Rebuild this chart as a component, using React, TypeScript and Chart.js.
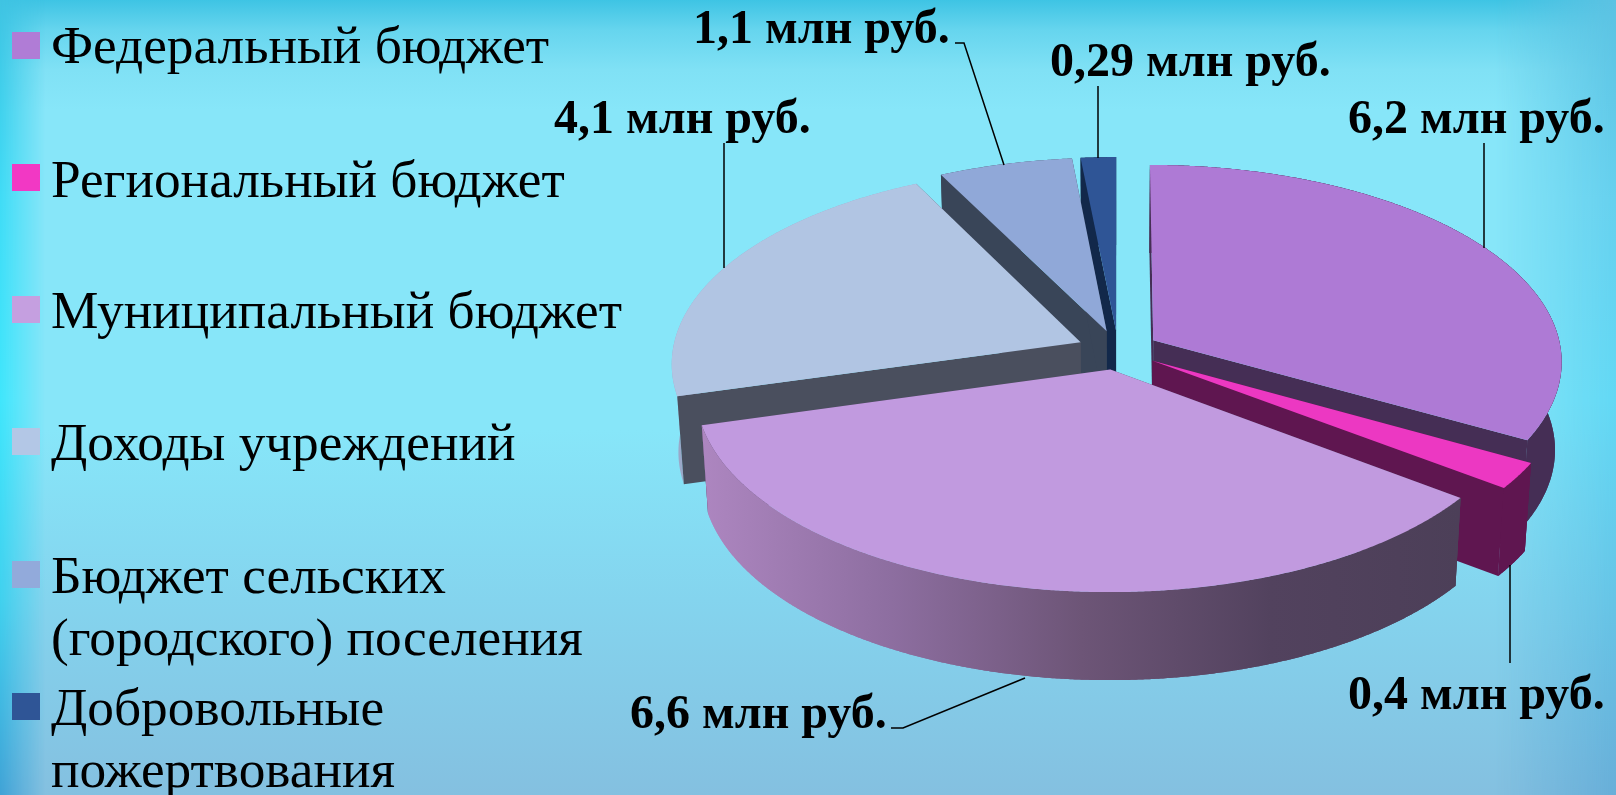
import React, { useEffect, useRef } from "react";
import { Chart, registerables } from "chart.js";

Chart.register(...registerables);

// ---- data ----
const categories = [
  "Федеральный бюджет",
  "Региональный бюджет",
  "Муниципальный бюджет",
  "Доходы учреждений",
  "Бюджет сельских (городского) поселения",
  "Добровольные пожертвования",
];
const values = [6.2, 0.4, 6.6, 4.1, 1.1, 0.29];
const valueLabels = [
  "6,2 млн руб.",
  "0,4 млн руб.",
  "6,6 млн руб.",
  "4,1 млн руб.",
  "1,1 млн руб.",
  "0,29 млн руб.",
];

// ---- styles ----
const topColors = ["#ae7ad5", "#ec38c2", "#c19adf", "#b1c5e3", "#90a8d8", "#2f5596"];
const legendColors = ["#b07cd6", "#f238c4", "#c59fe0", "#b3c7e6", "#92aadb", "#2f5596"];
const wallColors = ["#452e55", "#5f1650", "#4b3f5a", "#4a4f5e", "#394558", "#12284a"];
const bandStops: string[][] = [
  ["#452e55", "#452e55"],
  ["#5f1650", "#5f1650"],
  ["#ad86c0", "#8d6ea0", "#6d5577", "#52425e", "#4c3f58"],
  ["#9aa8c8", "#9aa8c8"],
  ["#394558", "#394558"],
  ["#12284a", "#12284a"],
];
const paintOrder = [5, 4, 0, 3, 1, 2];
const bandOverWalls = [0, 1, 2];

// ---- layout (pixels) ----
const CENTER = { x: 1118, y: 350 };
const RADIUS = 408;
const EXPLODE = 41;
const TILT_S = 195.3;
const PERSP = 0.1035;
const DEPTH = 88;
const BOTTOM_SCALE = 0.985;

const legendLayout = [
  { box: 32, lines: [{ t: "Федеральный бюджет", y: 63 }] },
  { box: 164, lines: [{ t: "Региональный бюджет", y: 197 }] },
  { box: 296, lines: [{ t: "Муниципальный бюджет", y: 328 }] },
  { box: 428, lines: [{ t: "Доходы учреждений", y: 460 }] },
  { box: 561, lines: [{ t: "Бюджет сельских", y: 593 }, { t: "(городского) поселения", y: 655 }] },
  { box: 693, lines: [{ t: "Добровольные", y: 725 }, { t: "пожертвования", y: 787 }] },
];
const labelLayout = [
  { x: 1348, y: 133, leader: [[1484, 143], [1484, 248]] },
  { x: 1348, y: 709, leader: [[1510, 565], [1510, 663]] },
  { x: 630, y: 728, leader: [[891, 728], [903, 728], [1025, 678]] },
  { x: 554, y: 133, leader: [[724, 143], [724, 268]] },
  { x: 693, y: 43, leader: [[955, 43], [964, 43], [1004, 165]] },
  { x: 1050, y: 76, leader: [[1098, 86], [1098, 158]] },
];

type P = { x: number; y: number };

function project(wx: number, wy: number): P {
  const t = wy / RADIUS;
  const f = 1 / (1 - PERSP * t);
  return { x: CENTER.x + wx * f, y: CENTER.y + TILT_S * t * f };
}
function drop(p: P): P {
  return { x: CENTER.x + (p.x - CENTER.x) * BOTTOM_SCALE, y: p.y + DEPTH };
}
function fillPoly(ctx: CanvasRenderingContext2D, pts: P[], fill: any) {
  ctx.beginPath();
  pts.forEach((p, i) => (i ? ctx.lineTo(p.x, p.y) : ctx.moveTo(p.x, p.y)));
  ctx.closePath();
  ctx.fillStyle = fill;
  ctx.fill();
}

const pie3d = {
  id: "pie3d",
  beforeDatasetsDraw(chart: any) {
    const ctx: CanvasRenderingContext2D = chart.ctx;
    const arcs = chart.getDatasetMeta(0).data;
    ctx.save();
    paintOrder.forEach((i) => {
      const el = arcs[i];
      const a0 = el.startAngle;
      const a1 = el.endAngle;
      const mid = (a0 + a1) / 2;
      const off = el.options.offset;
      const ox = Math.cos(mid) * off;
      const oy = Math.sin(mid) * off;
      const R = el.outerRadius;
      const n = Math.max(4, Math.ceil((a1 - a0) / 0.005));
      const arc: P[] = [];
      for (let k = 0; k <= n; k++) {
        const a = a0 + ((a1 - a0) * k) / n;
        arc.push(project(ox + Math.cos(a) * R, oy + Math.sin(a) * R));
      }
      const v = project(ox, oy);
      const xs = arc.map((p) => p.x);
      const g = ctx.createLinearGradient(Math.min(...xs), 0, Math.max(...xs), 0);
      bandStops[i].forEach((c, s, all) => g.addColorStop(s / (all.length - 1), c));
      fillPoly(ctx, [...arc, ...arc.map(drop).reverse()], g);
      fillPoly(ctx, [v, arc[0], drop(arc[0]), drop(v)], wallColors[i]);
      fillPoly(ctx, [v, arc[n], drop(arc[n]), drop(v)], wallColors[i]);
      if (bandOverWalls.includes(i)) {
        fillPoly(ctx, [...arc, ...arc.map(drop).reverse()], g);
      }
      fillPoly(ctx, [v, ...arc], el.options.backgroundColor);
    });
    ctx.restore();
    return false;
  },
  afterDraw(chart: any) {
    const ctx: CanvasRenderingContext2D = chart.ctx;
    ctx.save();
    ctx.textAlign = "left";
    ctx.textBaseline = "alphabetic";
    ctx.strokeStyle = "#000";
    ctx.lineWidth = 1.5;
    labelLayout.forEach((l) => {
      ctx.beginPath();
      l.leader.forEach(([x, y], k) => (k ? ctx.lineTo(x, y) : ctx.moveTo(x, y)));
      ctx.stroke();
    });
    ctx.fillStyle = "#000";
    ctx.font = 'bold 48px "Liberation Serif"';
    valueLabels.forEach((t, i) => ctx.fillText(t, labelLayout[i].x, labelLayout[i].y));
    ctx.font = '53.3px "Liberation Serif"';
    legendLayout.forEach((l, i) => {
      ctx.fillStyle = legendColors[i];
      ctx.fillRect(12, l.box, 28, 27);
      ctx.fillStyle = "#000";
      l.lines.forEach((ln) => ctx.fillText(ln.t, 51, ln.y));
    });
    ctx.restore();
  },
};

const strip = (side: "left" | "right", width: number, stops: string): React.CSSProperties => {
  const mask = `linear-gradient(${side === "left" ? "90deg" : "270deg"}, #000, transparent)`;
  return {
    position: "absolute",
    top: 0,
    bottom: 0,
    [side]: 0,
    width,
    background: `linear-gradient(180deg, ${stops})`,
    maskImage: mask,
    WebkitMaskImage: mask,
  } as React.CSSProperties;
};

export default function App() {
  const ref = useRef<HTMLCanvasElement>(null);
  useEffect(() => {
    document.body.style.margin = "0";
    const chart = new Chart(ref.current!, {
      type: "pie",
      plugins: [pie3d],
      data: {
        labels: categories,
        datasets: [
          {
            data: values,
            backgroundColor: topColors,
            radius: RADIUS,
            offset: EXPLODE,
            borderWidth: 0,
          } as any,
        ],
      },
      options: {
        responsive: false,
        animation: false,
        layout: { padding: { left: 620, bottom: 95 } },
        plugins: { legend: { display: false }, tooltip: { enabled: false } },
      },
    });
    return () => chart.destroy();
  }, []);
  return (
    <div
      style={{
        position: "fixed",
        inset: 0,
        width: 1616,
        height: 795,
        overflow: "hidden",
        background:
          "linear-gradient(180deg, #3ec4e4 0, #66d5ee 30px, #80e1f5 70px, #87e6f9 110px, #87e6f9 430px, #84d4ee 600px, #84c0e0 795px)",
      }}
    >
      <div style={strip("left", 45, "#3fc3e2 0, #3fdcf6 200px, #3fe6fc 400px, #3fd0ee 600px, #3fa2d6 795px")} />
      <div style={strip("right", 120, "#5cc2e2 0, #66d0ee 200px, #62d8f4 400px, #66c4e6 600px, #68aed8 795px")} />
      <canvas ref={ref} width={1616} height={795} style={{ display: "block", position: "relative" }} />
    </div>
  );
}
